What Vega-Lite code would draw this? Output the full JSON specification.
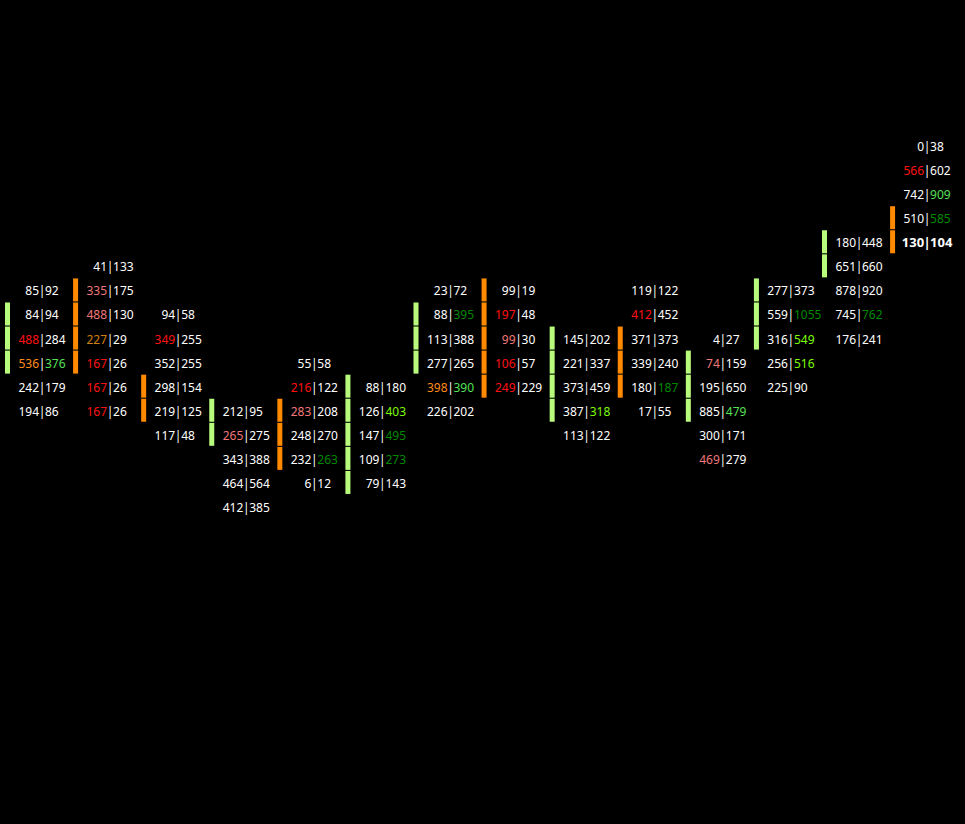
{
  "$schema": "https://vega.github.io/schema/vega-lite/v6.json",
  "description": "Footprint chart: bid|ask volume per price level for 14 bars, with delta per bar.",
  "width": 965,
  "height": 824,
  "autosize": {"type": "fit", "contains": "padding"},
  "padding": 0,
  "background": "#000000",
  "config": {"view": {"stroke": null}},
  "datasets": {
    "cells": [
      {"col": 0, "row": 6, "bid": 85, "ask": 92, "bidTone": "plain", "askTone": "plain", "side": null, "current": false},
      {"col": 0, "row": 7, "bid": 84, "ask": 94, "bidTone": "plain", "askTone": "plain", "side": "buy", "current": false},
      {"col": 0, "row": 8, "bid": 488, "ask": 284, "bidTone": "strong", "askTone": "plain", "side": "buy", "current": false},
      {"col": 0, "row": 9, "bid": 536, "ask": 376, "bidTone": "poc", "askTone": "poc", "side": "buy", "current": false},
      {"col": 0, "row": 10, "bid": 242, "ask": 179, "bidTone": "plain", "askTone": "plain", "side": null, "current": false},
      {"col": 0, "row": 11, "bid": 194, "ask": 86, "bidTone": "plain", "askTone": "plain", "side": null, "current": false},

      {"col": 1, "row": 5, "bid": 41, "ask": 133, "bidTone": "plain", "askTone": "plain", "side": null, "current": false},
      {"col": 1, "row": 6, "bid": 335, "ask": 175, "bidTone": "weak", "askTone": "plain", "side": "sell", "current": false},
      {"col": 1, "row": 7, "bid": 488, "ask": 130, "bidTone": "weak", "askTone": "plain", "side": "sell", "current": false},
      {"col": 1, "row": 8, "bid": 227, "ask": 29, "bidTone": "mid", "askTone": "plain", "side": "sell", "current": false},
      {"col": 1, "row": 9, "bid": 167, "ask": 26, "bidTone": "strong", "askTone": "plain", "side": "sell", "current": false},
      {"col": 1, "row": 10, "bid": 167, "ask": 26, "bidTone": "strong", "askTone": "plain", "side": null, "current": false},
      {"col": 1, "row": 11, "bid": 167, "ask": 26, "bidTone": "strong", "askTone": "plain", "side": null, "current": false},

      {"col": 2, "row": 7, "bid": 94, "ask": 58, "bidTone": "plain", "askTone": "plain", "side": null, "current": false},
      {"col": 2, "row": 8, "bid": 349, "ask": 255, "bidTone": "strong", "askTone": "plain", "side": null, "current": false},
      {"col": 2, "row": 9, "bid": 352, "ask": 255, "bidTone": "plain", "askTone": "plain", "side": null, "current": false},
      {"col": 2, "row": 10, "bid": 298, "ask": 154, "bidTone": "plain", "askTone": "plain", "side": "sell", "current": false},
      {"col": 2, "row": 11, "bid": 219, "ask": 125, "bidTone": "plain", "askTone": "plain", "side": "sell", "current": false},
      {"col": 2, "row": 12, "bid": 117, "ask": 48, "bidTone": "plain", "askTone": "plain", "side": null, "current": false},

      {"col": 3, "row": 11, "bid": 212, "ask": 95, "bidTone": "plain", "askTone": "plain", "side": "buy", "current": false},
      {"col": 3, "row": 12, "bid": 265, "ask": 275, "bidTone": "weak", "askTone": "plain", "side": "buy", "current": false},
      {"col": 3, "row": 13, "bid": 343, "ask": 388, "bidTone": "plain", "askTone": "plain", "side": null, "current": false},
      {"col": 3, "row": 14, "bid": 464, "ask": 564, "bidTone": "plain", "askTone": "plain", "side": null, "current": false},
      {"col": 3, "row": 15, "bid": 412, "ask": 385, "bidTone": "plain", "askTone": "plain", "side": null, "current": false},

      {"col": 4, "row": 9, "bid": 55, "ask": 58, "bidTone": "plain", "askTone": "plain", "side": null, "current": false},
      {"col": 4, "row": 10, "bid": 216, "ask": 122, "bidTone": "strong", "askTone": "plain", "side": null, "current": false},
      {"col": 4, "row": 11, "bid": 283, "ask": 208, "bidTone": "weak", "askTone": "plain", "side": "sell", "current": false},
      {"col": 4, "row": 12, "bid": 248, "ask": 270, "bidTone": "plain", "askTone": "plain", "side": "sell", "current": false},
      {"col": 4, "row": 13, "bid": 232, "ask": 263, "bidTone": "plain", "askTone": "dark", "side": "sell", "current": false},
      {"col": 4, "row": 14, "bid": 6, "ask": 12, "bidTone": "plain", "askTone": "plain", "side": null, "current": false},

      {"col": 5, "row": 10, "bid": 88, "ask": 180, "bidTone": "plain", "askTone": "plain", "side": "buy", "current": false},
      {"col": 5, "row": 11, "bid": 126, "ask": 403, "bidTone": "plain", "askTone": "lime", "side": "buy", "current": false},
      {"col": 5, "row": 12, "bid": 147, "ask": 495, "bidTone": "plain", "askTone": "dark", "side": "buy", "current": false},
      {"col": 5, "row": 13, "bid": 109, "ask": 273, "bidTone": "plain", "askTone": "dark", "side": "buy", "current": false},
      {"col": 5, "row": 14, "bid": 79, "ask": 143, "bidTone": "plain", "askTone": "plain", "side": "buy", "current": false},

      {"col": 6, "row": 6, "bid": 23, "ask": 72, "bidTone": "plain", "askTone": "plain", "side": null, "current": false},
      {"col": 6, "row": 7, "bid": 88, "ask": 395, "bidTone": "plain", "askTone": "dark", "side": "buy", "current": false},
      {"col": 6, "row": 8, "bid": 113, "ask": 388, "bidTone": "plain", "askTone": "plain", "side": "buy", "current": false},
      {"col": 6, "row": 9, "bid": 277, "ask": 265, "bidTone": "plain", "askTone": "plain", "side": "buy", "current": false},
      {"col": 6, "row": 10, "bid": 398, "ask": 390, "bidTone": "poc", "askTone": "poc", "side": null, "current": false},
      {"col": 6, "row": 11, "bid": 226, "ask": 202, "bidTone": "plain", "askTone": "plain", "side": null, "current": false},

      {"col": 7, "row": 6, "bid": 99, "ask": 19, "bidTone": "plain", "askTone": "plain", "side": "sell", "current": false},
      {"col": 7, "row": 7, "bid": 197, "ask": 48, "bidTone": "strong", "askTone": "plain", "side": "sell", "current": false},
      {"col": 7, "row": 8, "bid": 99, "ask": 30, "bidTone": "weak", "askTone": "plain", "side": "sell", "current": false},
      {"col": 7, "row": 9, "bid": 106, "ask": 57, "bidTone": "strong", "askTone": "plain", "side": "sell", "current": false},
      {"col": 7, "row": 10, "bid": 249, "ask": 229, "bidTone": "strong", "askTone": "plain", "side": "sell", "current": false},

      {"col": 8, "row": 8, "bid": 145, "ask": 202, "bidTone": "plain", "askTone": "plain", "side": "buy", "current": false},
      {"col": 8, "row": 9, "bid": 221, "ask": 337, "bidTone": "plain", "askTone": "plain", "side": "buy", "current": false},
      {"col": 8, "row": 10, "bid": 373, "ask": 459, "bidTone": "plain", "askTone": "plain", "side": "buy", "current": false},
      {"col": 8, "row": 11, "bid": 387, "ask": 318, "bidTone": "plain", "askTone": "lime", "side": "buy", "current": false},
      {"col": 8, "row": 12, "bid": 113, "ask": 122, "bidTone": "plain", "askTone": "plain", "side": null, "current": false},

      {"col": 9, "row": 6, "bid": 119, "ask": 122, "bidTone": "plain", "askTone": "plain", "side": null, "current": false},
      {"col": 9, "row": 7, "bid": 412, "ask": 452, "bidTone": "strong", "askTone": "plain", "side": null, "current": false},
      {"col": 9, "row": 8, "bid": 371, "ask": 373, "bidTone": "plain", "askTone": "plain", "side": "sell", "current": false},
      {"col": 9, "row": 9, "bid": 339, "ask": 240, "bidTone": "plain", "askTone": "plain", "side": "sell", "current": false},
      {"col": 9, "row": 10, "bid": 180, "ask": 187, "bidTone": "plain", "askTone": "dark", "side": "sell", "current": false},
      {"col": 9, "row": 11, "bid": 17, "ask": 55, "bidTone": "plain", "askTone": "plain", "side": null, "current": false},

      {"col": 10, "row": 8, "bid": 4, "ask": 27, "bidTone": "plain", "askTone": "plain", "side": null, "current": false},
      {"col": 10, "row": 9, "bid": 74, "ask": 159, "bidTone": "weak", "askTone": "plain", "side": "buy", "current": false},
      {"col": 10, "row": 10, "bid": 195, "ask": 650, "bidTone": "plain", "askTone": "plain", "side": "buy", "current": false},
      {"col": 10, "row": 11, "bid": 885, "ask": 479, "bidTone": "plain", "askTone": "poc", "side": "buy", "current": false},
      {"col": 10, "row": 12, "bid": 300, "ask": 171, "bidTone": "plain", "askTone": "plain", "side": null, "current": false},
      {"col": 10, "row": 13, "bid": 469, "ask": 279, "bidTone": "weak", "askTone": "plain", "side": null, "current": false},

      {"col": 11, "row": 6, "bid": 277, "ask": 373, "bidTone": "plain", "askTone": "plain", "side": "buy", "current": false},
      {"col": 11, "row": 7, "bid": 559, "ask": 1055, "bidTone": "plain", "askTone": "dark", "side": "buy", "current": false},
      {"col": 11, "row": 8, "bid": 316, "ask": 549, "bidTone": "plain", "askTone": "lime", "side": "buy", "current": false},
      {"col": 11, "row": 9, "bid": 256, "ask": 516, "bidTone": "plain", "askTone": "lime", "side": null, "current": false},
      {"col": 11, "row": 10, "bid": 225, "ask": 90, "bidTone": "plain", "askTone": "plain", "side": null, "current": false},

      {"col": 12, "row": 4, "bid": 180, "ask": 448, "bidTone": "plain", "askTone": "plain", "side": "buy", "current": false},
      {"col": 12, "row": 5, "bid": 651, "ask": 660, "bidTone": "plain", "askTone": "plain", "side": "buy", "current": false},
      {"col": 12, "row": 6, "bid": 878, "ask": 920, "bidTone": "plain", "askTone": "plain", "side": null, "current": false},
      {"col": 12, "row": 7, "bid": 745, "ask": 762, "bidTone": "plain", "askTone": "dark", "side": null, "current": false},
      {"col": 12, "row": 8, "bid": 176, "ask": 241, "bidTone": "plain", "askTone": "plain", "side": null, "current": false},

      {"col": 13, "row": 0, "bid": 0, "ask": 38, "bidTone": "plain", "askTone": "plain", "side": null, "current": false},
      {"col": 13, "row": 1, "bid": 566, "ask": 602, "bidTone": "strong", "askTone": "plain", "side": null, "current": false},
      {"col": 13, "row": 2, "bid": 742, "ask": 909, "bidTone": "plain", "askTone": "poc", "side": null, "current": false},
      {"col": 13, "row": 3, "bid": 510, "ask": 585, "bidTone": "plain", "askTone": "dark", "side": "sell", "current": false},
      {"col": 13, "row": 4, "bid": 130, "ask": 104, "bidTone": "plain", "askTone": "plain", "side": "sell", "current": true}
    ],
    "deltas": [
      {"col": 0, "delta": -518},
      {"col": 1, "delta": -1047},
      {"col": 2, "delta": -534},
      {"col": 3, "delta": 11},
      {"col": 4, "delta": -107},
      {"col": 5, "delta": 945},
      {"col": 6, "delta": 587},
      {"col": 7, "delta": -367},
      {"col": 8, "delta": 199},
      {"col": 9, "delta": -9},
      {"col": 10, "delta": -162},
      {"col": 11, "delta": 950},
      {"col": 12, "delta": 401},
      {"col": 13, "delta": 290}
    ]
  },
  "encoding": {
    "x": {"field": "col", "type": "quantitative", "axis": null,
          "scale": {"domain": [-0.617, 13.557], "nice": false, "zero": false}},
    "y": {"field": "row", "type": "quantitative", "axis": null,
          "scale": {"domain": [-6.066, 28.17], "nice": false, "zero": false, "reverse": true}}
  },
  "layer": [
    {
      "data": {"name": "cells"},
      "transform": [{"filter": "datum.side != null"}],
      "mark": {"type": "rect", "xOffset": -37, "x2Offset": -32, "yOffset": -12, "y2Offset": 11},
      "encoding": {
        "x2": {"field": "col"},
        "y2": {"field": "row"},
        "color": {"field": "side", "type": "nominal", "legend": null,
                  "scale": {"domain": ["buy", "sell"], "range": ["#b8fb7c", "#ff8a00"]}}
      }
    },
    {
      "data": {"name": "cells"},
      "transform": [{"filter": "!datum.current"}],
      "mark": {"type": "text", "align": "right", "baseline": "middle", "dx": -3, "dy": 1, "font": "Noto Sans", "fontSize": 12},
      "encoding": {
        "text": {"field": "bid"},
        "color": {"field": "bidTone", "type": "nominal", "legend": null,
                  "scale": {"domain": ["plain", "strong", "weak", "poc", "mid"],
                            "range": ["#ffffff", "#ff1010", "#f07878", "#ff8c1a", "#d08010"]}}
      }
    },
    {
      "data": {"name": "cells"},
      "transform": [{"filter": "!datum.current"}],
      "mark": {"type": "text", "align": "center", "baseline": "middle", "dy": 1, "text": "|", "font": "Noto Sans", "fontSize": 12, "color": "#ffffff"},
      "encoding": {}
    },
    {
      "data": {"name": "cells"},
      "transform": [{"filter": "!datum.current"}],
      "mark": {"type": "text", "align": "left", "baseline": "middle", "dx": 3, "dy": 1, "font": "Noto Sans", "fontSize": 12},
      "encoding": {
        "text": {"field": "ask"},
        "color": {"field": "askTone", "type": "nominal", "legend": null,
                  "scale": {"domain": ["plain", "lime", "dark", "poc"],
                            "range": ["#ffffff", "#7cfc00", "#008a00", "#55e055"]}}
      }
    },
    {
      "data": {"name": "cells"},
      "transform": [{"filter": "datum.current"}],
      "mark": {"type": "text", "align": "right", "baseline": "middle", "dx": -3, "dy": 1, "font": "Noto Sans", "fontSize": 13, "fontWeight": "bold", "color": "#ffffff"},
      "encoding": {"text": {"field": "bid"}}
    },
    {
      "data": {"name": "cells"},
      "transform": [{"filter": "datum.current"}],
      "mark": {"type": "text", "align": "center", "baseline": "middle", "dy": 1, "text": "|", "font": "Noto Sans", "fontSize": 13, "fontWeight": "bold", "color": "#ffffff"},
      "encoding": {}
    },
    {
      "data": {"name": "cells"},
      "transform": [{"filter": "datum.current"}],
      "mark": {"type": "text", "align": "left", "baseline": "middle", "dx": 3, "dy": 1, "font": "Noto Sans", "fontSize": 13, "fontWeight": "bold", "color": "#ffffff"},
      "encoding": {"text": {"field": "ask"}}
    },
    {
      "data": {"name": "deltas"},
      "mark": {"type": "text", "align": "center", "baseline": "middle", "dx": -2, "font": "Noto Sans", "fontSize": 12},
      "encoding": {
        "y": {"datum": 24.55},
        "text": {"field": "delta"},
        "color": {"condition": {"test": "datum.delta >= 0", "value": "#00ee00"}, "value": "#ff1010"}
      }
    }
  ],
  "resolve": {"scale": {"color": "independent"}}
}
